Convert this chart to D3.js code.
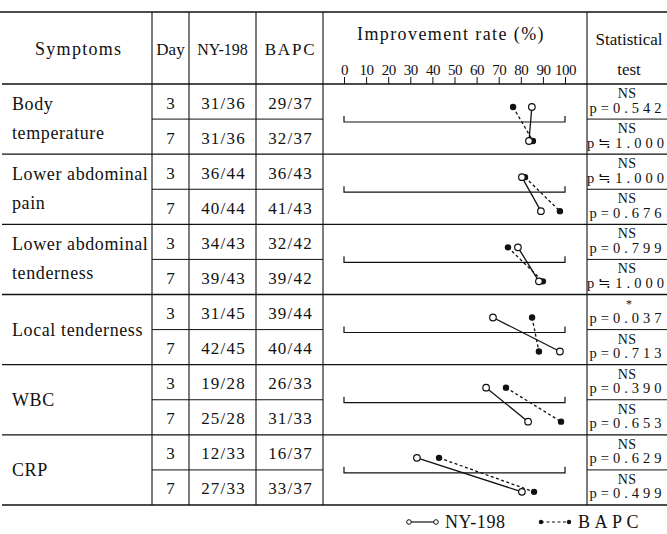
<!DOCTYPE html>
<html>
<head>
<meta charset="utf-8">
<script src="https://cdn.jsdelivr.net/npm/d3@7"></script>
<style>
  body { margin: 0; background: #fff; }
</style>
</head>
<body>
<div id="container"></div>
<script>
const symptoms = ['Body temperature', 'Lower abdominal pain', 'Lower abdominal tenderness',
                  'Local tenderness', 'WBC', 'CRP'];
const symptomLines = [['Body', 'temperature'], ['Lower abdominal', 'pain'], ['Lower abdominal', 'tenderness'],
                      ['Local tenderness'], ['WBC'], ['CRP']];
const days = [3, 7];
const nyCounts = [['31/36', '31/36'], ['36/44', '40/44'], ['34/43', '39/43'],
                  ['31/45', '42/45'], ['19/28', '25/28'], ['12/33', '27/33']];
const bapcCounts = [['29/37', '32/37'], ['36/43', '41/43'], ['32/42', '39/42'],
                    ['39/44', '40/44'], ['26/33', '31/33'], ['16/37', '33/37']];
// improvement rate (%) as plotted
const nyRate = [[85, 83.7], [80.5, 89.1], [78.7, 88.2], [67.4, 97.7], [64.3, 83.3], [33, 80.5]];
const bapcRate = [[76.5, 85.5], [81.9, 97.7], [74.2, 90], [85.1, 88.2], [73.3, 98.2], [43, 86]];
const signif = [['NS', 'NS'], ['NS', 'NS'], ['NS', 'NS'], ['*', 'NS'], ['NS', 'NS'], ['NS', 'NS']];
const pValues = [['p=0.542', 'p≒1.000'], ['p≒1.000', 'p=0.676'], ['p=0.799', 'p≒1.000'],
                 ['p=0.037', 'p=0.713'], ['p=0.390', 'p=0.653'], ['p=0.629', 'p=0.499']];
const rateTicks = [0, 10, 20, 30, 40, 50, 60, 70, 80, 90, 100];

// layout
const width = 667;
const height = 534;
const topY = 12;
const headY = 84;
const bottomY = 505;
const col = { sym: 2, day: 152, ny: 189, bapc: 256, imp: 323, stat: 587, end: 667 };
const serif = 'Liberation Serif';

const svg = d3.select('#container')
              .append('svg')
              .attr('width', width)
              .attr('height', height);

// scales
const xScale = d3.scaleLinear().domain([0, 100]).range([344, 565]);
const yGroup = d3.scaleBand().domain(symptoms).range([headY, bottomY]);
const gh = yGroup.bandwidth();
const yDay = d3.scalePoint().domain(days).range([23, 57]);
const ySub = d3.scaleBand().domain(days).range([0, gh]);

function label(g, x, y, t, size, spacing, anchor) {
    return g.append('text')
            .attr('x', x).attr('y', y)
            .attr('text-anchor', anchor || 'start')
            .attr('fill', '#111')
            .attr('font-family', serif)
            .style('font-family', `"${serif}"`)
            .attr('font-size', size)
            .attr('letter-spacing', spacing || 0)
            .text(t);
}

// table rules
const rules = svg.append('g').attr('stroke', '#111').attr('fill', 'none');
rules.append('line').attr('x1', 0).attr('x2', width).attr('y1', topY).attr('y2', topY).attr('stroke-width', 1.6);
[headY].concat(symptoms.map(s => yGroup(s) + gh)).forEach((y, i) => {
    rules.append('line').attr('x1', col.sym).attr('x2', width).attr('y1', y).attr('y2', y)
         .attr('stroke-width', i === 0 || i === symptoms.length ? 1.6 : 1.3);
});
[col.day, col.ny, col.bapc, col.imp, col.stat].forEach(x => {
    rules.append('line').attr('x1', x).attr('x2', x).attr('y1', topY).attr('y2', bottomY).attr('stroke-width', 1.1);
});
symptoms.forEach(s => {
    const y = yGroup(s) + ySub(days[1]);
    rules.append('line').attr('x1', col.day).attr('x2', col.imp).attr('y1', y).attr('y2', y).attr('stroke-width', 1);
    rules.append('line').attr('x1', col.stat).attr('x2', col.end).attr('y1', y).attr('y2', y).attr('stroke-width', 1);
});

// header texts
const head = svg.append('g');
label(head, 35, 55, 'Symptoms', 18, 1.3, 'start');
label(head, (col.day + col.ny) / 2, 55, 'Day', 17, 0, 'middle');
label(head, (col.ny + col.bapc) / 2, 55, 'NY-198', 16, 0, 'middle');
label(head, (col.bapc + col.imp) / 2 + 1, 55, 'BAPC', 17, 1.8, 'middle');
label(head, 357, 40, 'Improvement rate (%)', 18, 1.4, 'start');
label(head, (col.stat + col.end) / 2 + 2, 45, 'Statistical', 17, 0, 'middle');
label(head, (col.stat + col.end) / 2 + 2, 75, 'test', 17, 0, 'middle');

// rate axis
const xAxis = d3.axisTop(xScale).tickValues(rateTicks).tickSize(7).tickSizeOuter(0).tickPadding(2);
const axisG = svg.append('g').attr('transform', `translate(0, ${headY})`).call(xAxis)
                 .attr('font-family', serif).attr('font-size', 15);
axisG.select('.domain').remove();
axisG.selectAll('text').attr('fill', '#111').attr('letter-spacing', -0.5).style('font-family', `"${serif}"`);
axisG.selectAll('line').attr('stroke', '#111');

// rows
const rows = svg.selectAll('g.row')
                .data(symptoms)
                .enter()
                .append('g')
                .attr('class', 'row')
                .attr('transform', d => `translate(0, ${yGroup(d)})`);

rows.each(function(s, i) {
    const g = d3.select(this);
    const lines = symptomLines[i];
    const starts = lines.length === 2 ? [26, 55] : [41];
    lines.forEach((t, j) => label(g, 12, starts[j], t, 18, 0.6, 'start'));

    days.forEach((day, k) => {
        const cy = ySub(day) + ySub.bandwidth() / 2 + 7;
        label(g, (col.day + col.ny) / 2, cy, day, 17, 0, 'middle');
        label(g, (col.ny + col.bapc) / 2 + 1, cy, nyCounts[i][k], 17, 1.2, 'middle');
        label(g, (col.bapc + col.imp) / 2 + 1, cy, bapcCounts[i][k], 17, 1.2, 'middle');

        const sy = ySub(day);
        const mark = signif[i][k];
        if (mark === '*') {
            label(g, 629, sy + 13, mark, 12, 0, 'middle');
        } else {
            label(g, 627, sy + 14, mark, 14, 0.3, 'middle');
        }
        label(g, 627.5, sy + 28.5, pValues[i][k], 14.5, 4, 'middle');
    });

    // 0-100 bracket
    const by = 38;
    g.append('path')
     .attr('d', `M${xScale(0)},${by - 6}V${by}H${xScale(100)}V${by - 6}`)
     .attr('fill', 'none').attr('stroke', '#111').attr('stroke-width', 1.2);

    // BAPC (dashed, filled dots)
    g.append('line')
     .attr('x1', xScale(bapcRate[i][0])).attr('y1', yDay(3))
     .attr('x2', xScale(bapcRate[i][1])).attr('y2', yDay(7))
     .attr('stroke', '#111').attr('stroke-width', 1.3).attr('stroke-dasharray', '3,2.5');
    // NY-198 (solid, open dots)
    g.append('line')
     .attr('x1', xScale(nyRate[i][0])).attr('y1', yDay(3))
     .attr('x2', xScale(nyRate[i][1])).attr('y2', yDay(7))
     .attr('stroke', '#111').attr('stroke-width', 1.3);

    days.forEach((day, k) => {
        g.append('circle').attr('cx', xScale(bapcRate[i][k])).attr('cy', yDay(day)).attr('r', 3.2)
         .attr('fill', '#111');
        g.append('circle').attr('cx', xScale(nyRate[i][k])).attr('cy', yDay(day)).attr('r', 3.3)
         .attr('fill', '#fff').attr('stroke', '#111').attr('stroke-width', 1.2);
    });
});

// legend
const legY = 522;
const leg = svg.append('g');
leg.append('line').attr('x1', 409).attr('x2', 436).attr('y1', legY).attr('y2', legY).attr('stroke', '#111').attr('stroke-width', 1.2);
[409, 436].forEach(x => leg.append('circle').attr('cx', x).attr('cy', legY).attr('r', 2.3)
    .attr('fill', '#fff').attr('stroke', '#111').attr('stroke-width', 1));
label(leg, 445, legY + 6, 'NY-198', 18, 0.6, 'start');
leg.append('line').attr('x1', 541).attr('x2', 569).attr('y1', legY).attr('y2', legY).attr('stroke', '#111')
   .attr('stroke-width', 1.2).attr('stroke-dasharray', '3,2.5');
[541, 569].forEach(x => leg.append('circle').attr('cx', x).attr('cy', legY).attr('r', 2.2).attr('fill', '#111'));
label(leg, 578, legY + 6, 'BAPC', 18, 4.5, 'start');
</script>
</body>
</html>
